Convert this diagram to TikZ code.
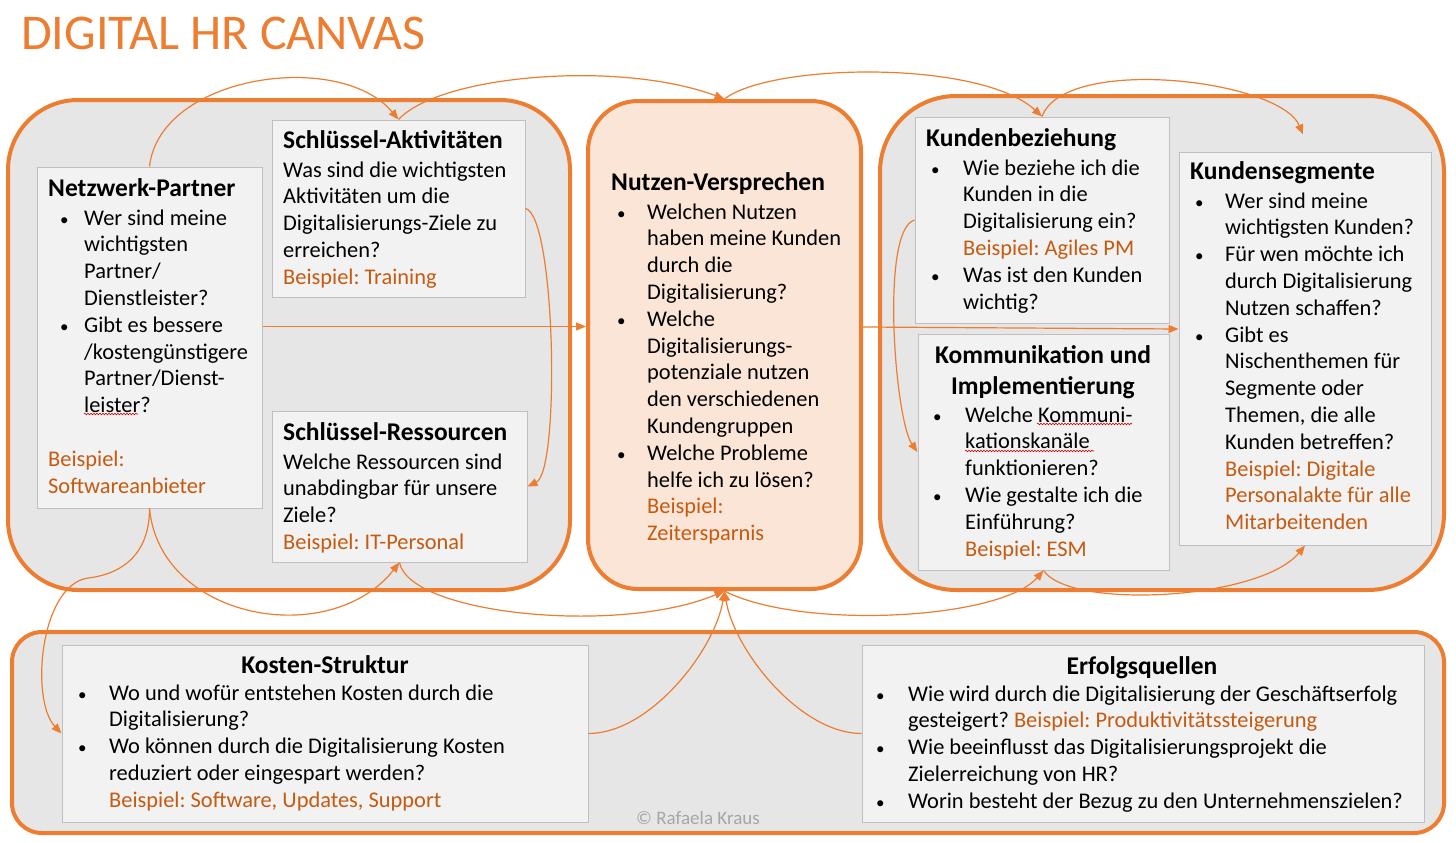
\documentclass[tikz,border=0pt]{standalone}
\usepackage{fontspec}
\setmainfont{Carlito}
\usetikzlibrary{arrows.meta,decorations.pathmorphing,calc}
\definecolor{orng}{HTML}{ED7D31}
\definecolor{otxt}{HTML}{C55A11}
\definecolor{panelgray}{HTML}{E7E6E6}
\definecolor{nvfill}{HTML}{FBE5D6}
\definecolor{boxfill}{HTML}{F2F2F2}
\definecolor{boxline}{HTML}{BFBFBF}
\definecolor{copygray}{HTML}{A6A6A6}
\frenchspacing
\newcommand\hd[1]{{\fontsize{25.5}{28}\selectfont\bfseries #1}}
\newcommand\bp[1]{\textcolor{otxt}{#1}}
\newcommand\BI[2]{\makebox[0pt][l]{\hspace*{#1pt}{\fontsize{17}{1}\selectfont•}}\hspace*{#2pt}}
\newcommand\CI[1]{\hspace*{#1pt}}
\newcommand\tb[1]{\parbox[t]{600pt}{\fontsize{22.4}{26.8}\selectfont #1}}
\begin{document}
\begin{tikzpicture}[x=1pt,y=-1pt,
  panel/.style={draw=orng, line width=4pt, fill=panelgray, inner sep=0pt},
  ibox/.style={draw=boxline, line width=1pt, fill=boxfill, inner sep=0pt},
  txt/.style={anchor=base west, inner sep=0pt},
  conn/.style={draw=orng, line width=1.2pt, -{Triangle[length=10pt,width=8pt]}},
  squig/.style={draw=red!80!black, line width=0.6pt, decorate, decoration={snake, amplitude=0.8pt, segment length=3pt}}
]
\useasboundingbox (0,0) rectangle (1456,843);

\node[anchor=base west, inner sep=0pt, text=orng, font=\fontsize{50}{60}\selectfont] (title) at (21,50) {DIGITAL HR CANVAS};

% panels
\node[panel, rounded corners=70pt, minimum width=562pt, minimum height=490pt] (pl) at (289,345) {};
\node[panel, fill=nvfill, rounded corners=50pt, minimum width=273pt, minimum height=488pt] (nv) at (724.5,345) {};
\node[panel, rounded corners=76pt, minimum width=564pt, minimum height=494pt] (pr) at (1162,343) {};
\node[panel, rounded corners=30pt, minimum width=1432pt, minimum height=201pt] (pb) at (728,732.5) {};

% inner boxes
\node[ibox, minimum width=225pt, minimum height=341pt] (np) at (149.5,337.5) {};
\node[ibox, minimum width=253pt, minimum height=177pt] (sa) at (398.5,208.5) {};
\node[ibox, minimum width=255pt, minimum height=151pt] (sr) at (399.5,486.5) {};
\node[ibox, minimum width=254pt, minimum height=206pt] (kb) at (1042,220) {};
\node[ibox, minimum width=251pt, minimum height=236pt] (km) at (1043.5,452) {};
\node[ibox, minimum width=252pt, minimum height=393pt] (ks) at (1305,348.5) {};
\node[ibox, minimum width=526pt, minimum height=177pt] (ko) at (325,733.5) {};
\node[ibox, minimum width=562pt, minimum height=177pt] (ef) at (1143,733.5) {};

% texts
\node[txt] (tnp) at (48,196) {\tb{\hd{Netzwerk-Partner}\\[2.2pt]
\BI{12}{36}Wer sind meine\\
\CI{36}wichtigsten\\
\CI{36}Partner/\\
\CI{36}Dienstleister?\\
\BI{12}{36}Gibt es bessere\\
\CI{36}/kostengünstigere\\
\CI{36}Partner/Dienst-\\
\CI{36}leister?\\[26.8pt]
\bp{Beispiel:}\\
\bp{Softwareanbieter}}};

\node[txt] (tsa) at (283,148) {\tb{\hd{Schlüssel-Aktivitäten}\\[2.2pt]
Was sind die wichtigsten\\
Aktivitäten um die\\
Digitalisierungs-Ziele zu\\
erreichen?\\
\bp{Beispiel: Training}}};

\node[txt] (tsr) at (283,440) {\tb{\hd{Schlüssel-Ressourcen}\\[2.2pt]
Welche Ressourcen sind\\
unabdingbar für unsere\\
Ziele?\\
\bp{Beispiel: IT-Personal}}};

\node[txt] (tnv) at (611,190) {\tb{\hd{Nutzen-Versprechen}\\[2.2pt]
\BI{6}{36}Welchen Nutzen\\
\CI{36}haben meine Kunden\\
\CI{36}durch die\\
\CI{36}Digitalisierung?\\
\BI{6}{36}Welche\\
\CI{36}Digitalisierungs-\\
\CI{36}potenziale nutzen\\
\CI{36}den verschiedenen\\
\CI{36}Kundengruppen\\
\BI{6}{36}Welche Probleme\\
\CI{36}helfe ich zu lösen?\\
\CI{36}\bp{Beispiel:}\\
\CI{36}\bp{Zeitersparnis}}};

\node[txt] (tkb) at (926,146) {\tb{\hd{Kundenbeziehung}\\[2.2pt]
\BI{5}{37}Wie beziehe ich die\\
\CI{37}Kunden in die\\
\CI{37}Digitalisierung ein?\\
\CI{37}\bp{Beispiel: Agiles PM}\\
\BI{5}{37}Was ist den Kunden\\
\CI{37}wichtig?}};

\node[anchor=base, inner sep=0pt] (tkmh) at (1043,363) {\parbox[t]{250pt}{\centering\fontsize{25.5}{31}\selectfont\bfseries Kommunikation und\\Implementierung}};
\node[txt] (tkm) at (933,422) {\tb{\BI{0}{32}Welche Kommuni-\\
\CI{32}kationskanäle\\
\CI{32}funktionieren?\\
\BI{0}{32}Wie gestalte ich die\\
\CI{32}Einführung?\\
\CI{32}\bp{Beispiel: ESM}}};

\node[txt] (tks) at (1190,179) {\tb{\hd{Kundensegmente}\\[2.2pt]
\BI{5}{35}Wer sind meine\\
\CI{35}wichtigsten Kunden?\\
\BI{5}{35}Für wen möchte ich\\
\CI{35}durch Digitalisierung\\
\CI{35}Nutzen schaffen?\\
\BI{5}{35}Gibt es\\
\CI{35}Nischenthemen für\\
\CI{35}Segmente oder\\
\CI{35}Themen, die alle\\
\CI{35}Kunden betreffen?\\
\CI{35}\bp{Beispiel: Digitale}\\
\CI{35}\bp{Personalakte für alle}\\
\CI{35}\bp{Mitarbeitenden}}};

\node[anchor=base, inner sep=0pt] (tkoh) at (325,673) {\hd{Kosten-Struktur}};
\node[txt] (tko) at (78,700) {\tb{\BI{0}{31}Wo und wofür entstehen Kosten durch die\\
\CI{31}Digitalisierung?\\
\BI{0}{31}Wo können durch die Digitalisierung Kosten\\
\CI{31}reduziert oder eingespart werden?\\
\CI{31}\bp{Beispiel: Software, Updates, Support}}};

\node[anchor=base, inner sep=0pt] (tefh) at (1142,674) {\hd{Erfolgsquellen}};
\node[txt] (tef) at (876,701) {\tb{\BI{0}{32}Wie wird durch die Digitalisierung der Geschäftserfolg\\
\CI{32}gesteigert? \bp{Beispiel: Produktivitätssteigerung}\\
\BI{0}{32}Wie beeinflusst das Digitalisierungsprojekt die\\
\CI{32}Zielerreichung von HR?\\
\BI{0}{32}Worin besteht der Bezug zu den Unternehmenszielen?}};

\node[anchor=base, inner sep=0pt, text=copygray, font=\fontsize{19}{22}\selectfont] (cr) at (698,824) {© Rafaela Kraus};

% spell-check squiggles
\draw[squig] (84,414) -- (138,414);
\draw[squig] (1037,424) -- (1132,424);
\draw[squig] (965,451) -- (1094,451);

% connectors
\coordinate (ksin) at ($(ks.north)+(-2,-17)$);
\coordinate (kink) at (88,578);
\draw[conn] (np.north) .. controls +(10.5,-92) and +(-58.5,-70) .. (sa.north);
\draw[conn] (sa.north) .. controls +(42,-45) and +(-104.5,-39) .. (nv.north);
\draw[conn] (nv.north) .. controls +(46,-36) and +(-62,-57) .. (kb.north);
\draw[conn] (kb.north) .. controls +(23,-62) and +(-23,-55) .. (ksin);

\draw[conn] ([yshift=11pt]np.east) -- ([yshift=11pt]np.east -| nv.west);
\draw[conn] ([yshift=18pt]nv.east) -- ([yshift=19.5pt]ks.west);

\draw[conn] (sa.east) .. controls +(30,7) and +(33,-16) .. (sr.east);
\draw[conn] (kb.west) .. controls +(-34.5,10) and +(-22.5,-32) .. (km.west);

\draw[conn] (np.south) .. controls +(10.5,111.5) and +(-69.5,87.5) .. (sr.south);
\draw[conn] (sr.south) .. controls +(10.5,52.5) and +(-104.5,44) .. (nv.south);
\draw[conn] (nv.south) .. controls +(75.5,39) and +(-43.5,49.5) .. (km.south);
\draw[conn] (km.south) .. controls +(26.5,39.5) and +(-45,54.5) .. (ks.south);
\draw[conn] (ko.east) .. controls +(61.5,0) and +(-9.5,59) .. (nv.south);
\draw[conn] (ef.west) .. controls +(-61.5,0) and +(9.5,59) .. (nv.south);
\draw[conn] (np.south) .. controls +(0,51.5) and +(27,-3) .. (kink) .. controls (40,585) and (30,700) .. (ko.west);
\end{tikzpicture}
\end{document}
